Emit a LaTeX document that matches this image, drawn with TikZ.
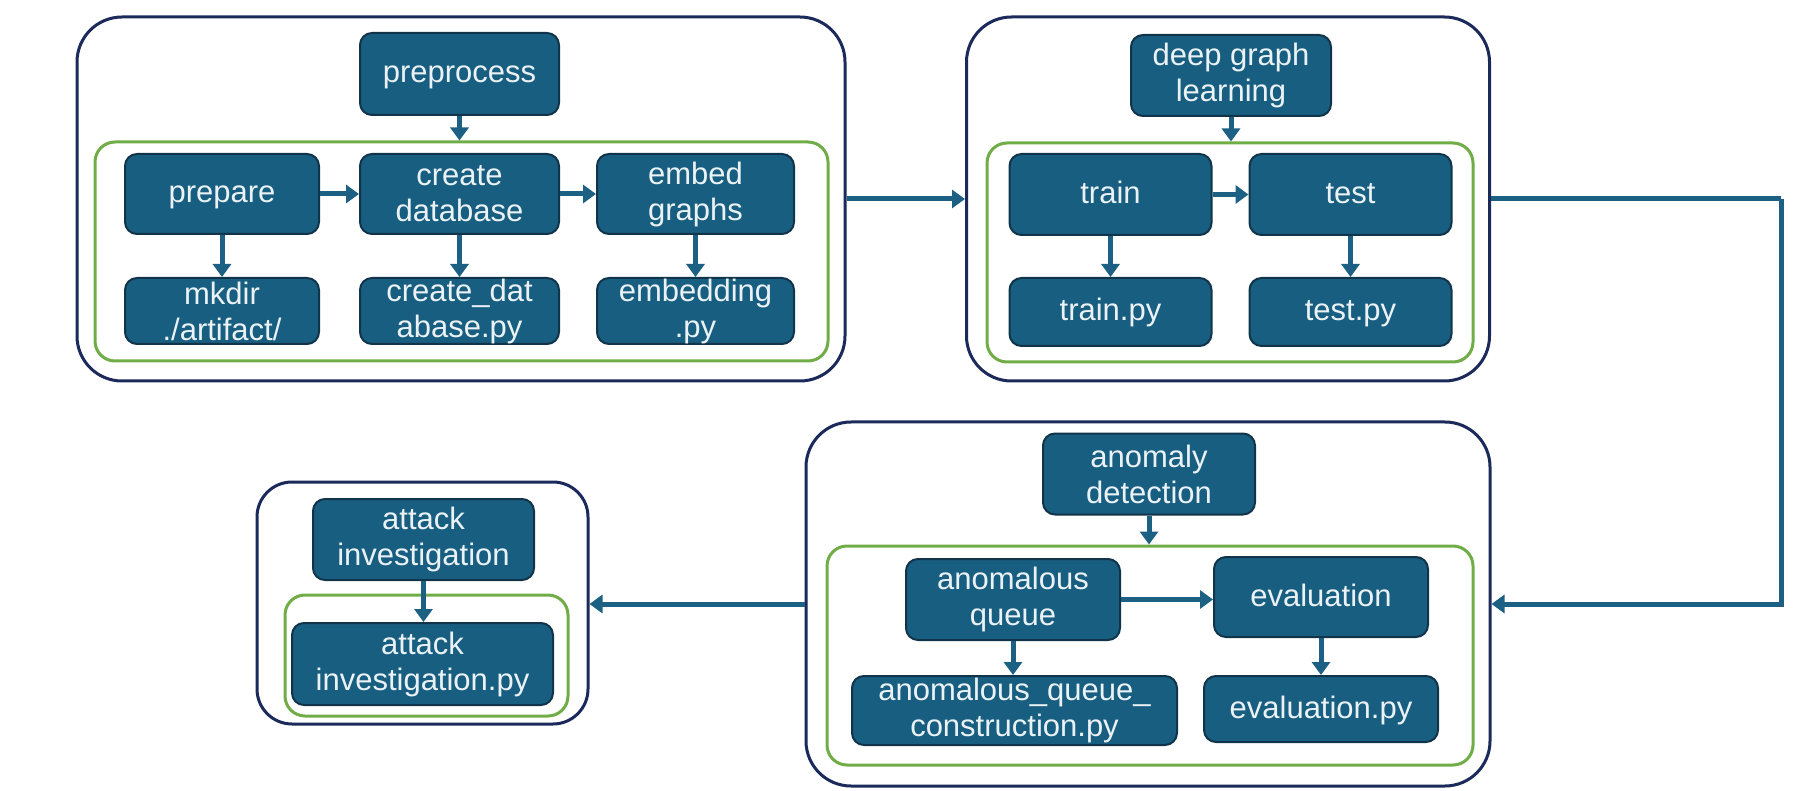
\documentclass[tikz,border=0pt]{standalone}
\usepackage{fontspec}
\setmainfont{Liberation Sans}
\usetikzlibrary{arrows.meta}
\definecolor{boxfill}{HTML}{185E80}
\definecolor{boxline}{HTML}{12344A}
\definecolor{boxtext}{HTML}{EAF2F6}
\definecolor{outerline}{HTML}{1B2A5A}
\definecolor{greenline}{HTML}{70AD47}
\definecolor{arrowcol}{HTML}{1C6184}
\tikzset{
  blk/.style={rectangle, rounded corners=12pt, fill=boxfill, draw=boxline, line width=2pt,
    text=boxtext, font=\fontsize{31}{36}\selectfont, align=center, inner sep=0pt},
  oneline/.style={text height=24pt, text depth=6pt},
  outerbox/.style={rectangle, rounded corners=45pt, draw=outerline, line width=3pt, inner sep=0pt},
  greenbox/.style={rectangle, rounded corners=20pt, draw=greenline, line width=3pt, inner sep=0pt},
  arr/.style={draw=arrowcol, line width=5pt, -{Triangle[length=13pt,width=18pt]}},
  elbowline/.style={draw=arrowcol, line width=5pt}
}
\begin{document}
\begin{tikzpicture}[x=1pt,y=-1pt]
\useasboundingbox (0,0) rectangle (1810,791);
% ---- group 1: preprocess
\node[outerbox, minimum width=768, minimum height=364] (o1) at (461,199) {};
\node[greenbox, minimum width=733, minimum height=219] (g1) at (461.5,251.5) {};
\node[blk, oneline, minimum width=199, minimum height=82] (pre) at (459.5,74) {preprocess};
\node[blk, oneline, minimum width=194, minimum height=80] (prep) at (222,194) {prepare};
\node[blk, minimum width=199, minimum height=80] (cdb) at (459.5,194) {create\\database};
\node[blk, minimum width=197, minimum height=80] (emb) at (695.5,194) {embed\\graphs};
\node[blk, minimum width=194, minimum height=66] (mk) at (222,311) {mkdir\\./artifact/};
\node[blk, minimum width=199, minimum height=66] (cdbpy) at (459.5,311) {create\_dat\\abase.py};
\node[blk, minimum width=197, minimum height=66] (embpy) at (695.5,311) {embedding\\.py};
\draw[arr] (pre.south) -- (pre.south |- g1.north);
\draw[arr] (prep.east) -- (cdb.west);
\draw[arr] (cdb.east) -- (emb.west);
\draw[arr] (prep.south) -- (mk.north);
\draw[arr] (cdb.south) -- (cdbpy.north);
\draw[arr] (emb.south) -- (embpy.north);
% ---- group 2: deep graph learning
\node[outerbox, minimum width=523, minimum height=364] (o2) at (1228,199) {};
\node[greenbox, minimum width=486, minimum height=219] (g2) at (1230,252.5) {};
\node[blk, minimum width=200, minimum height=81] (dgl) at (1231,75.5) {deep graph\\learning};
\node[blk, oneline, minimum width=202, minimum height=81] (tr) at (1110.5,194.5) {train};
\node[blk, oneline, minimum width=202, minimum height=81] (te) at (1350.5,194.5) {test};
\node[blk, oneline, minimum width=202, minimum height=68] (trpy) at (1110.5,312) {train.py};
\node[blk, oneline, minimum width=202, minimum height=68] (tepy) at (1350.5,312) {test.py};
\draw[arr] (dgl.south) -- (dgl.south |- g2.north);
\draw[arr] (tr.east) -- (te.west);
\draw[arr] (tr.south) -- (trpy.north);
\draw[arr] (te.south) -- (tepy.north);
% ---- group 3: anomaly detection
\node[outerbox, minimum width=684, minimum height=364] (o3) at (1148,604) {};
\node[greenbox, minimum width=646, minimum height=219] (g3) at (1150,655.5) {};
\node[blk, minimum width=212, minimum height=81] (ad) at (1149,474) {anomaly\\detection};
\node[blk, minimum width=214, minimum height=81] (aq) at (1013,599.5) {anomalous\\queue};
\node[blk, oneline, minimum width=214, minimum height=80] (ev) at (1321,597) {evaluation};
\node[blk, minimum width=325, minimum height=69] (aqpy) at (1014.5,710.5) {anomalous\_queue\_\\construction.py};
\node[blk, oneline, minimum width=234, minimum height=66] (evpy) at (1321,709) {evaluation.py};
\draw[arr] (ad.south) -- (ad.south |- g3.north);
\draw[arr] (aq.east) -- (ev.west |- aq.east);
\draw[arr] (aq.south) -- (aq.south |- aqpy.north);
\draw[arr] (ev.south) -- (evpy.north);
% ---- group 4: attack investigation
\node[outerbox, rounded corners=35pt, minimum width=331, minimum height=242] (o4) at (422.5,603) {};
\node[greenbox, minimum width=283, minimum height=121] (g4) at (426.5,655.5) {};
\node[blk, minimum width=221, minimum height=81] (ai) at (423.5,539.5) {attack\\investigation};
\node[blk, minimum width=261, minimum height=82] (aipy) at (422.5,664) {attack\\investigation.py};
\draw[arr] (ai.south) -- (ai.south |- aipy.north);
% ---- connections between groups
\coordinate (elb) at (1781,199);
\draw[arr] (o1.east) -- (o1.east -| o2.west);
\draw[elbowline] (o2.east) -- (elb);
\draw[arr] (elb) |- (o3.east);
\draw[arr] (o3.west) -- (o3.west -| o4.east);
\end{tikzpicture}
\end{document}
